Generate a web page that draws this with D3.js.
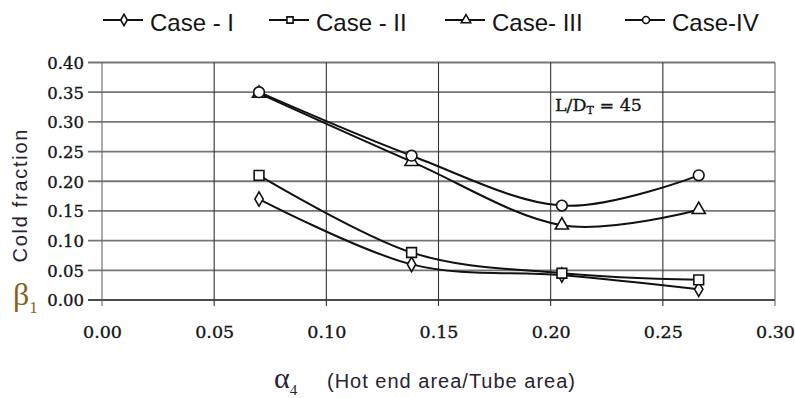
<!DOCTYPE html>
<html>
<head>
<meta charset="utf-8">
<script src="https://cdn.jsdelivr.net/npm/d3@7"></script>
<style>
  html, body { margin: 0; padding: 0; background: #fff; }
  svg { display: block; }
</style>
</head>
<body>
<svg id="chart" width="795" height="398"></svg>
<script>
// Hot end area ratio (x) and cold fraction for each case (y)
const alpha4 = [0.07, 0.138, 0.205, 0.266];
const caseI   = [0.170, 0.060, 0.042, 0.018];
const caseII  = [0.210, 0.080, 0.045, 0.034];
const caseIII = [0.348, 0.233, 0.126, 0.152];
const caseIV  = [0.350, 0.243, 0.159, 0.210];
const seriesNames = ["Case - I", "Case - II", "Case- III", "Case-IV"];
const seriesMarkers = ["diamond", "square", "triangle", "circle"];
const xTicks = [0.00, 0.05, 0.10, 0.15, 0.20, 0.25, 0.30];
const yTicks = [0.00, 0.05, 0.10, 0.15, 0.20, 0.25, 0.30, 0.35, 0.40];

const series = [caseI, caseII, caseIII, caseIV].map((vals, i) => ({
  name: seriesNames[i],
  marker: seriesMarkers[i],
  points: vals.map((v, j) => ({ x: alpha4[j], y: v }))
}));

const svg = d3.select("#chart");
const ink = "#151515";

const x = d3.scaleLinear().domain([0, 0.30]).range([102, 775]);
const y = d3.scaleLinear().domain([0, 0.40]).range([300, 62.5]);

// Grid: horizontal lines (grey, heavier) and vertical lines (dark, thin)
const grid = svg.append("g");
grid.selectAll("line.h").data(yTicks).join("line")
  .attr("class", "h")
  .attr("x1", x(0) - 14).attr("x2", x(0.30))
  .attr("y1", d => y(d)).attr("y2", d => y(d))
  .attr("stroke", d => d === 0 ? "#4a4a4a" : "#777")
  .attr("stroke-width", 1.8);
grid.selectAll("line.v").data(xTicks).join("line")
  .attr("class", "v")
  .attr("x1", d => x(d)).attr("x2", d => x(d))
  .attr("y1", y(0.40)).attr("y2", y(0) + 6)
  .attr("stroke", d => (d === 0 || d === 0.30) ? "#666" : "#333")
  .attr("stroke-width", 1.1);

// Tick labels
const yAxis = d3.axisLeft(y).tickValues(yTicks).tickFormat(d3.format(".2f")).tickSize(0).tickPadding(0);
const gy = svg.append("g").attr("transform", "translate(84,0)").call(yAxis);
gy.select(".domain").remove();
gy.selectAll("text")
  .attr("font-family", "DejaVu Serif")
  .attr("font-size", 16.5)
  .attr("fill", ink)
  .attr("stroke", ink).attr("stroke-width", 0.35)
  .attr("dy", "0.36em");

const xAxis = d3.axisBottom(x).tickValues(xTicks).tickFormat(d3.format(".2f")).tickSize(0).tickPadding(0);
const gx = svg.append("g").attr("transform", "translate(0,338)").call(xAxis);
gx.select(".domain").remove();
gx.selectAll("text")
  .attr("font-family", "DejaVu Serif")
  .attr("font-size", 17.5)
  .attr("fill", ink)
  .attr("stroke", ink).attr("stroke-width", 0.35)
  .attr("dy", 0);

// Smoothed series lines
const line = d3.line()
  .x(d => x(d.x)).y(d => y(d.y))
  .curve(d3.curveCardinal.tension(0));

svg.append("g").selectAll("path").data(series).join("path")
  .attr("d", d => line(d.points))
  .attr("fill", "none")
  .attr("stroke", "#111")
  .attr("stroke-width", 2);

// Marker shapes
const symbolType = {
  diamond: d3.symbolDiamond,
  square: d3.symbolSquare,
  triangle: d3.symbolTriangle,
  circle: d3.symbolCircle
};
const symbolSize = { diamond: 60, square: 95, triangle: 75, circle: 90 };

const markers = svg.append("g");
series.forEach(s => {
  markers.selectAll(null).data(s.points).join("path")
    .attr("transform", d => `translate(${x(d.x)},${y(d.y)})`)
    .attr("d", d3.symbol().type(symbolType[s.marker]).size(symbolSize[s.marker])())
    .attr("fill", "#fff")
    .attr("stroke", "#111")
    .attr("stroke-width", 1.6);
});

// Legend
const legendX = [103, 269, 445, 625];
const legend = svg.append("g");
series.forEach((s, i) => {
  const g = legend.append("g").attr("transform", `translate(${legendX[i]},20)`);
  g.append("line").attr("x1", 0).attr("x2", 40).attr("y1", 0).attr("y2", 0)
    .attr("stroke", "#111").attr("stroke-width", 2.2);
  g.append("path").attr("transform", "translate(21,0)")
    .attr("d", d3.symbol().type(symbolType[s.marker]).size(38)())
    .attr("fill", "#fff").attr("stroke", "#111").attr("stroke-width", 1.6);
  g.append("text").attr("x", 47).attr("y", 11)
    .attr("font-family", "Liberation Sans, Arial, sans-serif")
    .attr("font-size", 24).attr("fill", ink)
    .text(s.name);
});

// Annotation
const ann = svg.append("text").attr("x", 555).attr("y", 111)
  .attr("font-family", "DejaVu Serif").attr("font-size", 17.5).attr("fill", ink)
  .attr("stroke", ink).attr("stroke-width", 0.35);
ann.append("tspan").text("L/D");
ann.append("tspan").attr("font-size", 11).attr("dy", 3).text("T");
ann.append("tspan").attr("dy", -3).text(" = 45");

// Y axis title
svg.append("text")
  .attr("transform", "translate(27,196) rotate(-90)")
  .attr("text-anchor", "middle")
  .attr("font-family", "Liberation Sans, Arial, sans-serif")
  .attr("font-size", 20)
  .attr("textLength", 133).attr("lengthAdjust", "spacing")
  .attr("fill", "#2a2233")
  .text("Cold fraction");

const beta = svg.append("text").attr("x", 13).attr("y", 305)
  .attr("font-family", "Liberation Serif, serif").attr("font-size", 32).attr("fill", "#8a5f1c");
beta.append("tspan").text("β");
beta.append("tspan").attr("font-size", 17).attr("dy", 8).text("1");

// X axis title
const xt = svg.append("text").attr("x", 274).attr("y", 388)
  .attr("font-family", "Liberation Serif, serif").attr("font-size", 30).attr("fill", "#2a2233");
xt.append("tspan").text("α");
xt.append("tspan").attr("font-size", 15).attr("dy", 7).text("4");

svg.append("text").attr("x", 327).attr("y", 388)
  .attr("font-family", "Liberation Sans, Arial, sans-serif")
  .attr("font-size", 20)
  .attr("textLength", 248).attr("lengthAdjust", "spacing")
  .attr("fill", "#2a2233")
  .text("(Hot end area/Tube area)");
</script>
</body>
</html>
